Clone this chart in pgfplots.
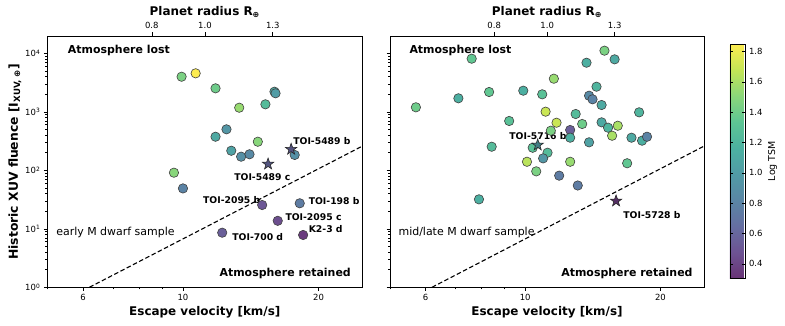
\documentclass[border=0pt]{standalone}
\usepackage{fontspec}
\setmainfont{DejaVu Sans}
\usepackage{pgfplots}
\usepackage{pgfplotstable}
\pgfplotsset{compat=1.18}

% viridis, blended with white (alpha 0.8 look)
\pgfplotsset{
  colormap={mviridis}{
    rgb255(0cm)=(105,52,118); rgb255(1cm)=(109,83,147); rgb255(2cm)=(101,110,161);
    rgb255(3cm)=(90,134,165); rgb255(4cm)=(81,155,165); rgb255(5cm)=(76,177,161);
    rgb255(6cm)=(93,197,148); rgb255(7cm)=(138,215,122); rgb255(8cm)=(195,229,86);
    rgb255(9cm)=(253,236,81)
  }
}

\pgfdeclareplotmark{fstar}{%
  \pgfpathmoveto{\pgfpointpolar{90}{\pgfplotmarksize}}%
  \pgfpathlineto{\pgfpointpolar{126}{0.4\pgfplotmarksize}}%
  \pgfpathlineto{\pgfpointpolar{162}{\pgfplotmarksize}}%
  \pgfpathlineto{\pgfpointpolar{198}{0.4\pgfplotmarksize}}%
  \pgfpathlineto{\pgfpointpolar{234}{\pgfplotmarksize}}%
  \pgfpathlineto{\pgfpointpolar{270}{0.4\pgfplotmarksize}}%
  \pgfpathlineto{\pgfpointpolar{306}{\pgfplotmarksize}}%
  \pgfpathlineto{\pgfpointpolar{342}{0.4\pgfplotmarksize}}%
  \pgfpathlineto{\pgfpointpolar{18}{\pgfplotmarksize}}%
  \pgfpathlineto{\pgfpointpolar{54}{0.4\pgfplotmarksize}}%
  \pgfpathclose
  \pgfusepathqfillstroke}

% escape velocity, XUV fluence, log TSM
\pgfplotstableread{
x y c
9.93 3980 1.45
10.67 4550 1.85
11.81 2520 1.40
15.96 2207 1.10
16.05 2072 1.00
13.33 1175 1.55
15.24 1343 1.25
12.49 502 0.95
11.81 375 1.10
14.66 308 1.50
12.80 216 1.05
13.46 171 0.90
14.05 188 0.85
17.70 183 0.90
9.55 91 1.50
10.00 49 0.80
14.99 25.5 0.50
18.16 27.3 0.75
16.23 13.7 0.45
12.22 8.58 0.55
18.48 7.84 0.35
}\earlydots
\pgfplotstableread{
x y c
17.38 229 0.60
15.45 128 0.62
}\earlystars
\pgfplotstableread{
x y c
5.71 1194 1.40
7.60 8090 1.35
7.10 1702 1.15
8.31 2180 1.35
9.21 697 1.30
8.42 253 1.25
7.89 31.9 1.15
9.90 2296 1.15
10.91 1991 1.30
11.58 3681 1.55
11.10 1005 1.70
11.74 651 1.70
11.40 475 1.45
12.59 489 0.55
12.59 361 1.15
10.39 243 1.30
11.21 200 1.25
10.96 160 0.95
10.09 140 1.65
10.58 96 1.45
11.90 81 0.75
12.59 140 1.55
13.09 55 0.75
12.95 917 1.25
13.39 619 1.40
13.87 301 1.05
13.69 6905 1.15
15.01 11090 1.45
15.81 7890 1.10
14.41 2686 1.20
13.87 1884 0.85
14.12 1636 0.80
14.79 1307 1.10
14.79 661 1.10
15.29 535 1.20
16.07 578 1.60
15.61 390 1.60
17.24 361 1.10
17.93 980 1.20
18.20 321 1.15
18.67 375 0.80
16.86 132 1.35
}\latedots
\pgfplotstableread{
x y c
10.66 271 1.00
15.93 29.9 0.35
}\latestars

\tikzset{
  bigtxt/.style={font=\bfseries\fontsize{11}{12}\selectfont, inner sep=0pt},
  nametxt/.style={font=\bfseries\fontsize{9.3}{10}\selectfont, inner sep=0pt},
  plaintxt/.style={font=\fontsize{11}{12}\selectfont, inner sep=0pt},
}

\begin{document}
\begin{tikzpicture}
\useasboundingbox (0,0) rectangle (785bp,326bp);

% ---- early M dwarfs
\begin{axis}[at={(47.3bp,38.7bp)}, anchor=south west,
  scale only axis, width=315bp, height=251.3bp,
  xmode=log, ymode=log, xmin=5, xmax=25, ymin=1, ymax=19770,
  xtick={6,10,20}, xticklabels={6,10,20}, minor xtick={5,7,8,9},
  ytick={1,10,100,1000,10000},
  yticklabels={10\textsuperscript{0},10\textsuperscript{1},10\textsuperscript{2},10\textsuperscript{3},10\textsuperscript{4}},
  tick align=outside, xtick pos=left, ytick pos=left,
  major tick length=3.5bp, minor tick length=2bp,
  tick style={black, line width=0.6bp},
  axis line style={black, line width=0.8bp},
  ticklabel style={font=\fontsize{8.5}{10}\selectfont},
  point meta=explicit, point meta min=0.305, point meta max=1.85,
  colormap name=mviridis,
  xlabel={\bfseries Escape velocity [km/s]},
  xlabel style={font=\fontsize{12}{14}\selectfont, at={(axis description cs:0.5,-0.1)}, anchor=center},
  ylabel={\bfseries Historic XUV fluence [I\textsubscript{XUV, ⊕}]},
  ylabel style={font=\fontsize{12.4}{14}\selectfont, at={(axis description cs:-0.103,0.5)}, anchor=center},
]
\addplot[black, dashed, line width=1.1bp, dash pattern=on 4.5bp off 2.5bp, point meta=none] coordinates {(6.2,1) (25,259)};
\addplot[scatter, only marks, mark=*, mark size=4.7bp,
    scatter/use mapped color={draw=black!75, fill=mapped color},
    mark options={line width=0.6bp}] table[x=x, y=y, meta=c] {\earlydots};
\addplot[scatter, only marks, mark=fstar, mark size=6bp,
    scatter/use mapped color={draw=black!85, fill=mapped color!80!black},
    mark options={line width=0.6bp}] table[x=x, y=y, meta=c] {\earlystars};
\node[bigtxt, anchor=west] at (axis cs:5.55,11380) {Atmosphere lost};
\node[bigtxt, anchor=east] at (axis cs:23.6,1.73) {Atmosphere retained};
\node[plaintxt, anchor=west] at (axis cs:5.23,8.71) {early M dwarf sample};
\node[nametxt, anchor=west] at (axis cs:17.56,321) {TOI-5489 b};
\node[nametxt, anchor=center] at (axis cs:15.0,77.8) {TOI-5489 c};
\node[nametxt, anchor=east] at (axis cs:14.86,31.1) {TOI-2095 b};
\node[nametxt, anchor=west] at (axis cs:19.0,29.9) {TOI-198 b};
\node[nametxt, anchor=west] at (axis cs:16.87,15.7) {TOI-2095 c};
\node[nametxt, anchor=west] at (axis cs:19.0,10.0) {K2-3 d};
\node[nametxt, anchor=west] at (axis cs:12.86,7.16) {TOI-700 d};
\end{axis}
\begin{axis}[at={(47.3bp,38.7bp)}, anchor=south west,
  scale only axis, width=315bp, height=251.3bp,
  xmode=log, xmin=5, xmax=25, ymin=0, ymax=1,
  axis x line*=top, axis y line=none,
  xtick={8.53,11.19,15.82}, xticklabels={0.8,1.0,1.3}, minor xtick={},
  tick align=outside, major tick length=3.5bp,
  tick style={black, line width=0.6bp},
  axis line style={black, line width=0.8bp},
  ticklabel style={font=\fontsize{8.5}{10}\selectfont},
  xlabel={\bfseries Planet radius R\textsubscript{⊕}},
  xlabel style={font=\fontsize{12}{14}\selectfont, at={(axis description cs:0.5,1.094)}, anchor=center},
]
\end{axis}

% ---- mid/late M dwarfs
\begin{axis}[at={(390bp,38.7bp)}, anchor=south west,
  scale only axis, width=314bp, height=251.3bp,
  xmode=log, ymode=log, xmin=5, xmax=25, ymin=1, ymax=19770,
  xtick={6,10,20}, xticklabels={6,10,20}, minor xtick={5,7,8,9},
  ytick={1,10,100,1000,10000}, yticklabels={},
  tick align=outside, xtick pos=left, ytick pos=left,
  major tick length=3.5bp, minor tick length=2bp,
  tick style={black, line width=0.6bp},
  axis line style={black, line width=0.8bp},
  ticklabel style={font=\fontsize{8.5}{10}\selectfont},
  point meta=explicit, point meta min=0.305, point meta max=1.85,
  colormap name=mviridis,
  xlabel={\bfseries Escape velocity [km/s]},
  xlabel style={font=\fontsize{12}{14}\selectfont, at={(axis description cs:0.5,-0.1)}, anchor=center},
  colorbar,
  colorbar style={
    scale only axis,
    at={(parent axis.north east)}, anchor=north west, xshift=17.3bp, yshift=-8bp,
    width=15.7bp, height=234.3bp,
    ytick={0.4,0.6,0.8,1.0,1.2,1.4,1.6,1.8},
    yticklabels={0.4,0.6,0.8,1.0,1.2,1.4,1.6,1.8},
    yticklabel pos=right,
    ticklabel style={font=\fontsize{8.5}{10}\selectfont},
    major tick length=3.5bp, tick style={black, line width=0.6bp},
    axis line style={black, line width=0.6bp},
    ylabel={Log TSM},
    ylabel style={font=\fontsize{9.5}{10}\selectfont, at={(axis description cs:2.72,0.5)}, anchor=center},
  },
]
\addplot[scatter, only marks, mark=*, mark size=4.7bp,
    scatter/use mapped color={draw=black!75, fill=mapped color},
    mark options={line width=0.6bp}] table[x=x, y=y, meta=c] {\latedots};
\addplot[scatter, only marks, mark=fstar, mark size=6bp,
    scatter/use mapped color={draw=black!85, fill=mapped color!80!black},
    mark options={line width=0.6bp}] table[x=x, y=y, meta=c] {\latestars};
\addplot[black, dashed, line width=1.1bp, dash pattern=on 4.5bp off 2.5bp, point meta=none] coordinates {(6.2,1) (25,259)};
\node[bigtxt, anchor=west] at (axis cs:5.52,11380) {Atmosphere lost};
\node[bigtxt, anchor=east] at (axis cs:23.6,1.73) {Atmosphere retained};
\node[plaintxt, anchor=west] at (axis cs:5.22,8.71) {mid/late M dwarf sample};
\node[nametxt, anchor=west] at (axis cs:9.21,390) {TOI-5716 b};
\node[nametxt, anchor=west] at (axis cs:16.52,17.0) {TOI-5728 b};
\end{axis}
\begin{axis}[at={(390bp,38.7bp)}, anchor=south west,
  scale only axis, width=314bp, height=251.3bp,
  xmode=log, xmin=5, xmax=25, ymin=0, ymax=1,
  axis x line*=top, axis y line=none,
  xtick={8.53,11.19,15.82}, xticklabels={0.8,1.0,1.3}, minor xtick={},
  tick align=outside, major tick length=3.5bp,
  tick style={black, line width=0.6bp},
  axis line style={black, line width=0.8bp},
  ticklabel style={font=\fontsize{8.5}{10}\selectfont},
  xlabel={\bfseries Planet radius R\textsubscript{⊕}},
  xlabel style={font=\fontsize{12}{14}\selectfont, at={(axis description cs:0.5,1.094)}, anchor=center},
]
\end{axis}
\end{tikzpicture}
\end{document}
